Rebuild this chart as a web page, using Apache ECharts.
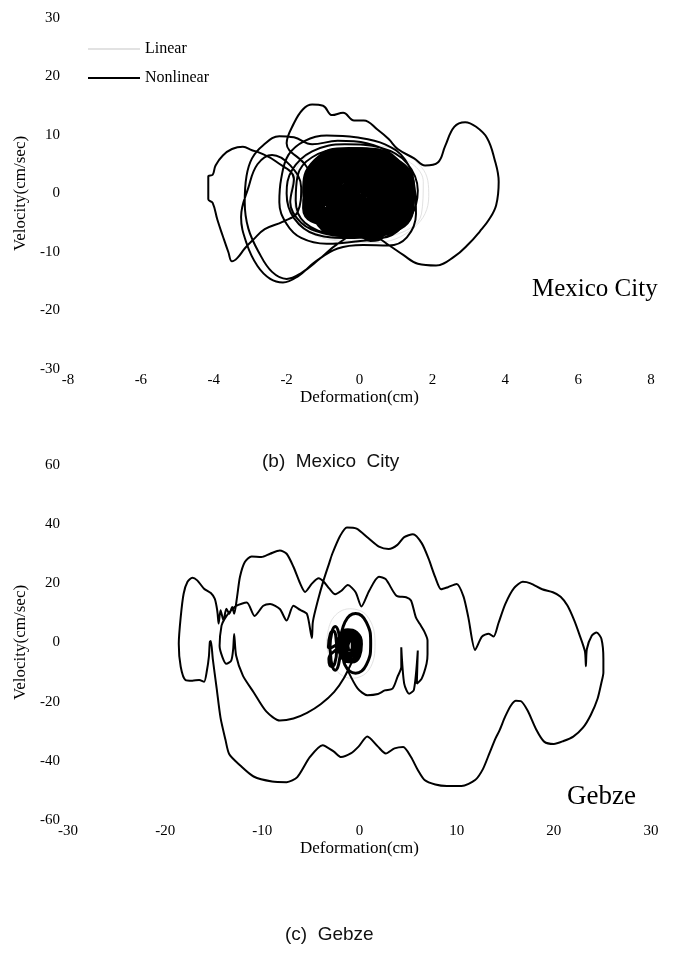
<!DOCTYPE html>
<html>
<head>
<meta charset="utf-8">
<script src="https://cdn.jsdelivr.net/npm/echarts@6/dist/echarts.min.js"></script>
<style>
  html, body { margin: 0; padding: 0; background: #fff; }
  #chart { width: 673px; height: 973px; }
</style>
</head>
<body>
<div id="chart"></div>
<script>
// Axis ranges: [min, max, interval]
const mexicoX = [-8, 8, 2];
const mexicoY = [-30, 30, 10];
const gebzeX = [-30, 30, 10];
const gebzeY = [-60, 60, 20];

// Mexico City, nonlinear response: large excursions (deformation cm, velocity cm/sec)
const mexicoNonlinear = [
  [0.0,0.0],[0.6,3.2],[1.1,0.8],[0.9,-3.0],[0.1,-4.6],[-0.8,-2.8],[-1.1,1.2],
  [-1.5,5.0],[-2.0,8.6],[-1.8,12.0],[-1.55,14.4],[-1.3,15.2],[-1.0,15.0],[-0.75,13.4],[-0.45,13.8],
  [-0.15,12.5],[0.12,12.5],[0.5,10.9],[0.8,9.3],[1.05,7.6],[1.5,6.0],[1.8,4.8],[2.15,5.3],[2.35,8.1],
  [2.6,11.4],[2.9,12.2],[3.2,11.4],[3.5,9.5],[3.7,6.0],[3.82,2.0],[3.75,-2.0],[3.55,-4.5],[3.3,-6.5],
  [3.0,-8.6],[2.6,-10.8],[2.1,-12.3],[1.6,-12.0],[1.2,-10.5],[0.8,-8.8],[0.4,-7.2],[0.0,-6.8],
  [-0.6,-8.6],[-1.1,-11.2],[-1.6,-13.6],[-2.0,-14.6],[-2.4,-13.4],[-2.75,-10.2],[-3.05,-6.0],[-3.15,-1.5],
  [-3.1,3.0],[-2.95,6.0],[-2.65,8.2],[-2.2,9.8],[-1.8,9.6],[-1.3,8.4],[-0.6,9.0],[0.2,8.6],[0.9,6.6],
  [1.35,3.0],[1.45,-1.5],[1.2,-5.5],[0.6,-7.6],[-0.2,-7.4],
  [-1.0,-6.8],[-1.6,-5.0],[-1.9,-1.5],[-1.8,2.5],[-2.3,5.5],[-2.75,7.0],[-2.95,7.4],[-3.2,8.0],[-3.5,7.6],
  [-3.75,6.5],[-3.95,4.8],[-4.03,3.2],[-4.15,2.9],[-4.15,-1.0],[-4.03,-1.6],[-3.9,-4.5],[-3.75,-7.3],
  [-3.6,-10.0],[-3.5,-11.6],[-3.35,-11.0],[-3.15,-9.4],[-2.9,-7.8],[-2.6,-6.1],[-2.1,-4.8],[-1.7,-3.2],
  [-1.6,1.0],[-1.9,4.8],[-2.4,6.6],[-2.8,5.0],[-3.05,1.0],[-3.25,-4.0],[-3.1,-8.5],[-2.8,-12.4],
  [-2.45,-14.6],[-2.1,-15.2],[-1.7,-14.2],[-1.2,-11.6],[-0.6,-9.4],[0.1,-8.8],[0.8,-8.9],[1.3,-7.5],
  [1.55,-3.5],[1.5,1.5],[1.25,5.8],[0.7,8.4],[-0.1,9.6],[-0.9,9.9],[-1.5,9.0],[-1.95,6.6],[-2.15,2.5],
  [-2.2,-1.5],[-2.0,-5.2],[-1.6,-7.6],[-0.9,-8.6],
  [-0.1,-8.2],[0.8,-7.2],[1.4,-4.0],[1.6,0.5],[1.3,5.2],[0.6,7.8],[-0.4,8.4],[-1.3,7.2],[-1.85,4.0],
  [-2.0,0.0],[-1.8,-4.2],[-1.2,-7.0],[-0.3,-7.6],[0.7,-6.6],[1.3,-3.6],[1.5,0.8],[1.2,4.8],[0.5,7.0],
  [-0.5,7.6],[-1.3,6.2],[-1.7,3.0],[-1.75,-1.2],[-1.5,-5.0],[-0.7,-6.9],[0.3,-7.2],[1.0,-6.2]
];

// Mexico City, nonlinear response: the dense core of small cycles
const mexicoCore = [
  [-1.45,0.5],[-1.15,5.2],[-0.2,7.2],[0.95,5.5],[1.42,0.3],[1.0,-5.0],[-0.1,-6.8],[-1.1,-4.8],
  [-1.38,-0.3],[-1.05,4.6],[-0.1,6.6],[0.9,4.9],[1.3,-0.2],[0.95,-4.6],[0.0,-6.2],[-1.0,-4.4],
  [-1.5,0.2],[-1.2,5.5],[-0.3,7.5],[0.8,6.2],[1.45,1.0],[1.15,-4.5],[0.2,-6.5],[-0.9,-5.5],
  [-1.25,0.6],[-0.95,4.2],[0.0,6.0],[0.85,4.4],[1.2,0.0],[0.85,-4.3],[-0.05,-5.8],[-0.95,-4.0],
  [-1.1,-0.4],[-0.85,3.8],[0.1,5.4],[0.95,3.6],[1.25,-0.6],[0.9,-4.8],[0.1,-6.3],[-0.8,-4.6],
  [-1.3,0.9],[-1.0,4.9],[-0.25,6.6],[0.6,5.6],[1.05,1.2],[0.75,-3.6],[-0.2,-5.2],[-1.1,-3.5],
  [-0.95,0.0],[-0.7,3.5],[0.0,4.8],[0.75,3.4],[1.05,0.0],[0.7,-3.6],[0.0,-5.0],[-0.75,-3.4],
  [-1.2,-0.8],[-0.9,3.2],[-0.1,4.6],[0.7,3.8],[1.1,0.5],[0.85,-3.2],[0.05,-4.6],[-0.85,-3.7],
  [-0.8,0.3],[-0.6,3.0],[0.05,4.1],[0.65,3.0],[0.9,0.0],[0.6,-3.1],[0.0,-4.2],[-0.6,-3.0],
  [-1.0,1.5],[-0.75,4.0],[0.0,5.0],[0.6,4.3],[0.95,1.4],[0.8,-2.4],[0.2,-4.0],[-0.7,-2.8],
  [-0.65,0.0],[-0.45,2.3],[0.05,3.3],[0.5,2.4],[0.75,0.0],[0.5,-2.5],[0.0,-3.3],[-0.45,-2.3],
  [-0.9,-1.0],[-0.7,2.2],[0.0,3.6],[0.55,2.6],[0.85,-0.6],[0.65,-3.4],[0.0,-4.6],[-0.65,-3.5],
  [-0.5,0.2],[-0.3,1.8],[0.1,2.5],[0.45,1.7],[0.6,0.0],[0.4,-1.9],[0.0,-2.6],[-0.35,-1.8],
  [-1.35,1.8],[-1.1,5.8],[-0.35,7.0],[0.5,6.3],[1.0,2.5],[1.35,-2.5],[0.6,-6.0],[-0.5,-6.2],
  [-1.4,-1.5],[-1.3,3.0],[-0.6,6.2],[0.3,6.8],[1.2,3.8],[1.4,-1.5],[0.9,-5.5],[-0.6,-6.0],
  [-0.35,0.0],[-0.2,1.3],[0.1,1.8],[0.35,1.2],[0.45,0.0],[0.3,-1.3],[0.0,-1.8],[-0.25,-1.2],
  [0.1,-6.2],[0.3,-5.4],[0.6,-6.0],[0.6,-7.2],[0.3,-7.8],[0.05,-7.0],
  [-1.5,-2.5],[-1.4,2.5],[-0.8,6.8],[0.2,7.4],[1.1,4.8],[1.45,-0.5],[1.1,-5.8],[0.1,-7.0],[-0.9,-6.4],
  [-1.2,1.2],[-0.9,5.8],[0.1,6.9],[1.0,5.5],[1.35,1.6],[1.25,-3.2],[0.5,-6.6],[-0.5,-6.6],[-1.2,-3.6],
  [-1.05,0.2],[-0.8,4.6],[0.2,5.9],[0.9,4.9],[1.15,0.8],[1.0,-3.8],[0.3,-5.6],[-0.6,-5.4],[-1.05,-2.4],
  [-0.75,-0.6],[-0.55,2.8],[0.15,4.4],[0.75,3.6],[1.0,0.4],[0.8,-3.0],[0.15,-4.8],[-0.5,-4.2],
  [-0.55,0.8],[-0.4,3.2],[0.3,3.9],[0.7,2.2],[0.8,-1.2],[0.5,-3.6],[-0.1,-3.9],[-0.5,-2.0],
  [-0.3,0.5],[-0.15,2.2],[0.25,2.6],[0.5,1.0],[0.45,-1.4],[0.15,-2.8],[-0.2,-2.2],
  [-1.3,-0.5],[-1.15,3.6],[-0.55,6.1],[0.35,6.0],[1.05,3.0],[1.2,-1.4],[0.85,-4.9],[-0.05,-6.0],[-0.95,-4.9],
  [-0.25,0.3],[-0.1,1.4],[0.15,1.6],[0.3,0.5],[0.25,-0.9],[0.05,-1.6],[-0.2,-1.0],
  [-0.45,-0.2],[-0.3,2.0],[0.1,2.8],[0.45,1.8],[0.55,-0.5],[0.35,-2.4],[-0.1,-2.8],[-0.4,-1.6],
  [-0.7,0.6],[-0.5,3.0],[0.05,3.9],[0.6,2.9],[0.8,0.2],[0.6,-2.9],[0.05,-3.8],[-0.55,-2.6],
  [-0.9,0.2],[-0.7,3.8],[0.0,5.2],[0.75,4.0],[1.05,-0.3],[0.8,-4.0],[0.0,-5.3],[-0.7,-3.9],
  [-1.15,-0.2],[-0.95,4.4],[-0.1,6.0],[0.85,4.6],[1.25,0.2],[0.95,-4.4],[0.05,-6.0],[-0.85,-4.5],
  [-0.15,0.1],[0.0,0.7],[0.12,0.2],[0.05,-0.6],[-0.1,-0.4],
  [-0.05,0.2],[0.1,1.0],[0.3,0.8],[0.35,-0.3],[0.2,-1.1],[-0.05,-0.8],
  [-0.3,0.8],[-0.1,2.4],[0.35,2.2],[0.55,0.6],[0.45,-1.6],[0.1,-2.2],[-0.25,-1.2],
  [0.2,0.0],[0.35,1.5],[0.65,1.2],[0.75,-0.5],[0.55,-2.0],[0.25,-1.6],
  [-0.55,1.2],[-0.35,3.6],[0.25,3.4],[0.55,1.6],[0.6,-1.4],[0.3,-3.2],[-0.3,-3.0],[-0.6,-1.0]
];

// Mexico City, linear response
const mexicoLinear = [
  [-1.9,0.0],[-1.6,5.5],[-0.6,8.4],[0.7,8.0],[1.7,4.5],[1.9,-0.5],[1.5,-5.8],[0.4,-8.4],[-0.9,-7.8],
  [-1.7,-4.2],[-1.8,1.5],[-1.3,6.2],[-0.2,7.8],[1.0,6.6],[1.75,2.0],[1.7,-3.5],[0.9,-7.2],[-0.4,-8.0],
  [-1.5,-5.5],[-2.0,-0.5]
];

// Gebze, nonlinear response: the full orbit
const gebzeNonlinear = [
  [-0.7,-6.0],[-1.6,-12.0],[-2.6,-16.7],[-4.0,-20.9],[-5.4,-23.8],[-6.8,-25.7],[-8.2,-26.4],[-9.6,-23.3],
  [-10.9,-16.8],[-12.0,-11.2],[-12.7,-4.4],[-12.9,2.9],[-13.0,-2.2],[-13.2,-6.1],[-13.7,-7.2],
  [-14.1,-5.0],[-14.4,-1.1],[-14.2,5.7],[-13.9,7.9],[-13.4,10.2],[-12.7,12.4],[-11.6,13.5],[-10.8,9.0],
  [-9.9,12.4],[-9.2,13.0],[-8.2,11.3],[-7.5,7.4],[-6.8,12.4],[-6.1,11.0],[-5.4,9.6],[-4.9,1.5],
  [-4.8,7.0],[-4.3,14.0],[-3.7,21.0],[-3.1,27.0],[-2.8,30.0],[-2.0,36.0],[-1.3,38.9],[-0.3,38.5],
  [0.9,35.3],[2.0,32.4],[3.0,31.6],[3.9,33.0],[4.6,35.6],[5.5,36.6],[6.4,33.6],[7.1,28.4],[7.8,22.0],
  [8.4,18.0],[9.1,18.7],[10.0,19.8],[10.7,15.6],[11.2,8.5],[11.9,-2.5],[12.6,2.0],[13.3,3.0],
  [13.8,2.0],[14.3,6.5],[15.0,13.0],[15.9,18.4],[16.8,20.5],[17.6,20.0],[18.8,18.0],[19.9,17.0],
  [20.7,15.5],[21.4,12.5],[22.1,7.5],[22.6,3.0],[23.2,-3.0],[23.3,-8.0],[23.4,-2.2],[23.9,2.3],
  [24.4,3.4],[24.9,1.2],[25.1,-5.6],[25.1,-10.1],
  [24.9,-13.5],[24.5,-19.0],[23.8,-24.5],[23.0,-28.8],[22.0,-31.8],[21.0,-33.3],[20.0,-34.3],[19.0,-33.5],
  [18.2,-29.5],[17.3,-23.0],[16.6,-19.8],[16.1,-19.7],[15.6,-21.2],[15.0,-25.0],[14.4,-29.8],[14.0,-32.4],
  [13.4,-37.2],[12.7,-42.8],[11.9,-46.5],[10.5,-48.5],[9.0,-48.5],[7.8,-48.0],[6.7,-46.5],[6.0,-43.1],
  [5.3,-38.7],[4.5,-35.3],[3.6,-35.8],[2.7,-37.5],[1.9,-35.2],[0.8,-31.8],[-0.1,-35.2],[-0.9,-37.5],
  [-1.9,-38.7],[-2.6,-37.0],[-3.8,-34.7],[-5.1,-38.7],[-6.4,-45.5],[-7.5,-47.2],[-9.0,-47.0],
  [-10.9,-45.3],[-12.3,-41.5],[-13.4,-37.8],[-13.8,-32.8],[-14.3,-25.5],[-14.7,-15.5],[-15.1,-5.5],
  [-15.3,0.5],
  [-15.4,0.2],[-15.5,-4.8],[-15.7,-9.4],[-16.0,-13.3],[-16.5,-12.7],[-17.2,-12.9],[-17.9,-12.7],
  [-18.4,-8.2],[-18.6,-0.4],[-18.4,8.6],[-18.1,16.5],[-17.7,20.5],[-17.2,21.9],[-16.7,21.0],
  [-16.0,18.2],[-15.3,16.7],[-14.9,14.8],[-14.7,12.0],[-14.6,9.7],[-14.5,6.4],
  [-14.3,10.9],[-14.0,7.5],[-13.7,11.4],[-13.4,9.7],[-13.1,12.0],[-12.9,9.7],
  [-12.6,15.4],[-12.3,22.2],[-11.8,27.2],[-11.1,29.1],[-10.1,28.9],[-9.2,30.0],[-8.2,31.1],[-7.5,30.0],
  [-6.8,25.6],[-6.1,19.9],[-5.6,17.1],[-4.9,19.9],[-4.2,21.7],[-3.7,20.6],[-3.1,18.2],[-2.5,16.3],
  [-1.9,17.4],[-1.2,19.4],[-0.4,17.0],[0.2,12.2],[1.0,17.5],[2.0,22.2],[2.7,21.4],[3.8,15.8],[4.8,15.3],
  [5.3,14.2],[5.8,8.5],[6.2,6.3],[6.7,3.5],[7.0,0.7],[7.0,-4.0],[6.9,-7.2],[6.4,-12.2],[5.9,-13.9],
  [6.0,-2.7],[5.6,-16.0],[5.1,-17.3],[4.6,-13.9],[4.3,-1.6],[4.3,-8.3],[3.9,-11.7],[3.4,-15.6],
  [2.6,-16.2],[1.9,-17.4],[0.8,-17.8],[-0.2,-15.5],[-1.2,-9.5]
];

// Gebze, nonlinear response: small cycles near the origin
const gebzeCore = [
  [-1.95,-0.3],[-1.5,6.9],[-0.4,9.8],[0.7,6.9],[1.15,-0.3],[0.7,-7.6],[-0.4,-10.4],[-1.5,-7.6],[-1.95,-0.3],
  [-3.05,-2.0],[-2.85,3.4],[-2.5,5.4],[-2.15,3.4],[-1.95,-2.0],[-2.15,-7.4],[-2.5,-9.4],[-2.85,-7.4],[-3.05,-2.0],
  [-3.2,-1.6],[-3.0,2.9],[-2.7,3.9],[-2.45,2.4],[-2.35,-2.6],[-2.55,-7.1],[-2.9,-8.1],[-3.15,-5.6],
  [-2.1,-1.2],[-1.8,2.6],[-1.0,3.8],[-0.2,2.6],[0.1,-1.2],[-0.2,-5.0],[-1.0,-6.2],[-1.8,-5.0],
  [-1.9,-1.0],[-1.6,2.2],[-0.9,3.2],[-0.3,2.0],[-0.05,-1.4],[-0.3,-4.6],[-1.0,-5.6],[-1.7,-4.4],
  [-1.65,-1.2],[-1.4,1.6],[-0.9,2.4],[-0.45,1.4],[-0.3,-1.2],[-0.5,-3.9],[-1.0,-4.6],[-1.5,-3.8],
  [-1.4,-1.0],[-1.2,1.0],[-0.9,1.6],[-0.6,0.8],[-0.55,-1.4],[-0.7,-3.2],[-1.0,-3.7],[-1.3,-3.0],
  [-1.2,-1.3],[-1.05,0.3],[-0.85,0.7],[-0.75,-0.3],[-0.75,-1.8],[-0.9,-2.6],[-1.1,-2.5],[-1.2,-1.3],
  [-2.2,-0.8],[-1.95,3.0],[-1.2,4.3],[-0.3,3.4],[0.2,-0.5],[0.0,-4.6],[-0.8,-6.6],[-1.7,-5.6],[-2.2,-0.8]
];

// Gebze, linear response
const gebzeLinear = [
  [-3.4,-0.6],[-2.8,7.9],[-1.0,11.4],[0.8,8.9],[1.6,-0.1],[1.0,-9.1],[-0.8,-12.1],[-2.6,-8.6],[-3.4,-0.6]
];

const SERIF = '"Liberation Serif", "Times New Roman", serif';
const SANS = '"Liberation Sans", Arial, sans-serif';

function valueAxis(range, gridIndex, name, isX) {
  return {
    type: 'value', gridIndex: gridIndex,
    min: range[0], max: range[1], interval: range[2],
    name: name, nameLocation: 'middle',
    nameGap: isX ? 20 : 30,
    nameTextStyle: { fontFamily: SERIF, fontSize: 17, color: '#000' },
    axisLine: { show: false }, axisTick: { show: false }, splitLine: { show: false },
    axisLabel: { fontFamily: SERIF, fontSize: 15, color: '#000', margin: isX ? 4 : 8 }
  };
}

function trace(name, data, xi, color, width, smooth) {
  return {
    type: 'line', name: name, xAxisIndex: xi, yAxisIndex: xi,
    data: data, symbol: 'none', showSymbol: false, smooth: smooth,
    lineStyle: { color: color, width: width }, itemStyle: { color: color },
    silent: true, z: name === 'Linear' ? 1 : 2
  };
}

const chart = echarts.init(document.getElementById('chart'), null, { renderer: 'canvas' });
chart.setOption({
  animation: false,
  backgroundColor: '#fff',
  grid: [
    { left: 68, right: 22, top: 18, height: 351 },
    { left: 68, right: 22, top: 465, height: 355 }
  ],
  xAxis: [
    valueAxis(mexicoX, 0, 'Deformation(cm)', true),
    valueAxis(gebzeX, 1, 'Deformation(cm)', true)
  ],
  yAxis: [
    valueAxis(mexicoY, 0, 'Velocity(cm/sec)', false),
    valueAxis(gebzeY, 1, 'Velocity(cm/sec)', false)
  ],
  legend: {
    data: ['Linear', 'Nonlinear'], orient: 'vertical', left: 88, top: 41, padding: 0,
    icon: 'rect', itemWidth: 52, itemHeight: 2, itemGap: 13, selectedMode: false,
    textStyle: { fontFamily: SERIF, fontSize: 16, color: '#000' }
  },
  graphic: [
    { type: 'text', left: 532, top: 277, style: { text: 'Mexico City', font: '25px ' + SERIF, fill: '#000' } },
    { type: 'text', left: 567, top: 783, style: { text: 'Gebze', font: '27px ' + SERIF, fill: '#000' } },
    { type: 'text', left: 262, top: 452, style: { text: '(b)  Mexico  City', font: '19px ' + SANS, fill: '#111' } },
    { type: 'text', left: 285, top: 925, style: { text: '(c)  Gebze', font: '19px ' + SANS, fill: '#111' } }
  ],
  series: [
    trace('Linear', mexicoLinear, 0, '#e2e2e2', 1, 0.4),
    trace('Nonlinear', mexicoNonlinear, 0, '#000', 2, 0.4),
    trace('Nonlinear', mexicoCore, 0, '#000', 5.5, 0.5),
    trace('Linear', gebzeLinear, 1, '#e2e2e2', 1, 0.4),
    trace('Nonlinear', gebzeNonlinear, 1, '#000', 2, 0.25),
    trace('Nonlinear', gebzeCore, 1, '#000', 3, 0.5)
  ]
});
</script>
</body>
</html>
